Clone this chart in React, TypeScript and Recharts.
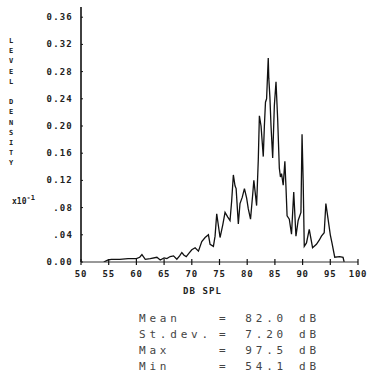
import React from 'react';
import { LineChart, Line, XAxis, YAxis } from 'recharts';

const levels = [54.1, 54.9, 55.5, 57.0, 58.5, 60.0, 60.6, 61.0, 61.6, 62.5, 63.7, 64.3, 65.0, 65.5, 66.1, 66.7, 67.3, 67.8, 68.2, 68.6, 69.0, 69.5, 70.0, 70.6, 71.2, 71.8, 72.4, 73.0, 73.3, 73.9, 74.2, 74.5, 75.1, 75.6, 76.0, 76.5, 76.9, 77.2, 77.5, 77.8, 78.0, 78.4, 78.7, 79.1, 79.5, 79.9, 80.2, 80.6, 81.0, 81.2, 81.5, 81.7, 82.0, 82.2, 82.5, 82.9, 83.1, 83.3, 83.5, 83.7, 83.8, 83.9, 84.1, 84.3, 84.6, 84.9, 85.2, 85.5, 85.8, 86.0, 86.2, 86.5, 86.8, 87.0, 87.2, 87.6, 88.0, 88.4, 88.8, 89.2, 89.7, 89.9, 90.1, 90.3, 90.7, 91.2, 91.8, 92.5, 93.0, 93.4, 93.9, 94.2, 94.6, 95.0, 95.3, 95.8, 96.7, 97.3, 97.5];
const density = [0, 0.003, 0.004, 0.004, 0.005, 0.005, 0.007, 0.011, 0.004, 0.005, 0.007, 0.003, 0.006, 0.005, 0.008, 0.009, 0.004, 0.009, 0.014, 0.010, 0.008, 0.013, 0.018, 0.021, 0.016, 0.030, 0.036, 0.040, 0.026, 0.023, 0.038, 0.071, 0.036, 0.055, 0.073, 0.066, 0.061, 0.090, 0.128, 0.112, 0.108, 0.056, 0.086, 0.095, 0.108, 0.094, 0.078, 0.063, 0.100, 0.120, 0.098, 0.083, 0.150, 0.215, 0.200, 0.155, 0.200, 0.235, 0.240, 0.280, 0.300, 0.270, 0.242, 0.200, 0.153, 0.230, 0.265, 0.210, 0.138, 0.125, 0.130, 0.113, 0.148, 0.110, 0.068, 0.063, 0.041, 0.103, 0.038, 0.061, 0.073, 0.188, 0.120, 0.023, 0.028, 0.048, 0.021, 0.026, 0.032, 0.038, 0.043, 0.086, 0.063, 0.040, 0.028, 0.007, 0.008, 0.007, 0];

const xTicks = [50, 55, 60, 65, 70, 75, 80, 85, 90, 95, 100];
const yTicks = [0, 0.04, 0.08, 0.12, 0.16, 0.2, 0.24, 0.28, 0.32, 0.36];
const yTickLabels = ['0.00', '.04', '.08', '0.12', '0.16', '0.20', '0.24', '0.28', '0.32', '0.36'];

const statNames = ['Mean', 'St.dev.', 'Max', 'Min'];
const statValues = ['82.0', '7.20', '97.5', '54.1'];

const yTitle = 'LEVEL DENSITY';

const data = levels.map((db, i) => ({ db, density: density[i] }));

const W = 371;
const H = 383;
const AXIS_X = 81;
const AXIS_Y = 262;
const RIGHT = 358;
const TOP = 7;
const Y_AXIS_W = 60;
const X_AXIS_H = 30;
const FONT = '"DejaVu Sans Mono", "Liberation Mono", monospace';

const XTick = (props: any) => {
  const { x, payload } = props;
  return (
    <g>
      <line x1={x} x2={x} y1={AXIS_Y - 3} y2={AXIS_Y + 3} stroke="#111" strokeWidth={1.2} />
      <text x={x} y={AXIS_Y + 15} textAnchor="middle" fontFamily={FONT} fontSize={9} fontWeight="bold" fill="#222" letterSpacing={0.8}>
        {payload.value}
      </text>
    </g>
  );
};

const YTick = (props: any) => {
  const { y, payload, index } = props;
  const i = yTicks.indexOf(payload.value);
  return (
    <g>
      <line x1={AXIS_X} x2={AXIS_X + 2} y1={y} y2={y} stroke="#111" strokeWidth={1} />
      <text x={AXIS_X - 8} y={y + 3} textAnchor="end" fontFamily={FONT} fontSize={9} fontWeight="bold" fill="#222" letterSpacing={1.2}>
        {yTickLabels[i >= 0 ? i : index]}
      </text>
    </g>
  );
};

export default function App() {
  return (
    <div style={{ position: 'absolute', left: 0, top: 0, width: W, height: H, background: '#fff', overflow: 'hidden' }}>
      <LineChart
        width={W}
        height={H}
        data={data}
        margin={{ top: TOP, right: W - RIGHT, bottom: H - AXIS_Y - X_AXIS_H, left: AXIS_X - Y_AXIS_W }}
      >
        <XAxis
          dataKey="db"
          type="number"
          domain={[50, 100]}
          ticks={xTicks}
          height={X_AXIS_H}
          tickSize={0}
          tickMargin={0}
          tick={<XTick />}
          axisLine={{ stroke: '#333', strokeWidth: 1 }}
          tickLine={false}
          interval={0}
          allowDataOverflow
        />
        <YAxis
          type="number"
          domain={[0, 0.375]}
          ticks={yTicks}
          width={Y_AXIS_W}
          tickSize={0}
          tickMargin={0}
          tick={<YTick />}
          axisLine={{ stroke: '#111', strokeWidth: 1.6 }}
          tickLine={false}
          interval={0}
          allowDataOverflow
        />
        <Line
          dataKey="density"
          type="linear"
          stroke="#111"
          strokeWidth={1.3}
          dot={false}
          isAnimationActive={false}
        />
      </LineChart>
      {yTitle.split('').map((ch, i) => (
        <div
          key={i}
          style={{
            position: 'absolute',
            left: 7,
            top: 37 + i * 10.2,
            width: 8,
            textAlign: 'center',
            fontFamily: FONT,
            fontSize: 7,
            fontWeight: 'bold',
            lineHeight: '8px',
            color: '#222',
          }}
        >
          {ch === ' ' ? '\u00a0' : ch}
        </div>
      ))}
      <div
        style={{
          position: 'absolute',
          left: 12,
          top: 197,
          fontFamily: FONT,
          fontSize: 8,
          fontWeight: 'bold',
          lineHeight: '10px',
          color: '#222',
          whiteSpace: 'nowrap',
        }}
      >
        x10<sup style={{ fontSize: 7, verticalAlign: '4px', lineHeight: 0 }}>-1</sup>
      </div>
      <div
        style={{
          position: 'absolute',
          left: 183,
          top: 286,
          fontFamily: FONT,
          fontSize: 9,
          fontWeight: 'bold',
          letterSpacing: 1.1,
          color: '#222',
          whiteSpace: 'nowrap',
          lineHeight: '10px',
        }}
      >
        DB SPL
      </div>
      {statNames.map((name, i) => (
        <div
          key={name}
          style={{
            position: 'absolute',
            left: 139,
            top: 312 + i * 16,
            fontFamily: FONT,
            fontSize: 11,
            color: '#444',
            whiteSpace: 'pre',
            lineHeight: '14px',
            letterSpacing: 3.8,
          }}
        >
          <span style={{ display: 'inline-block', width: 80 }}>{name}</span>
          <span style={{ display: 'inline-block', width: 22 }}>=</span>
          <span style={{ display: 'inline-block', width: 46, textAlign: 'right' }}>{statValues[i]}</span>
          <span style={{ display: 'inline-block', width: 20, marginLeft: 12 }}>dB</span>
        </div>
      ))}
    </div>
  );
}
